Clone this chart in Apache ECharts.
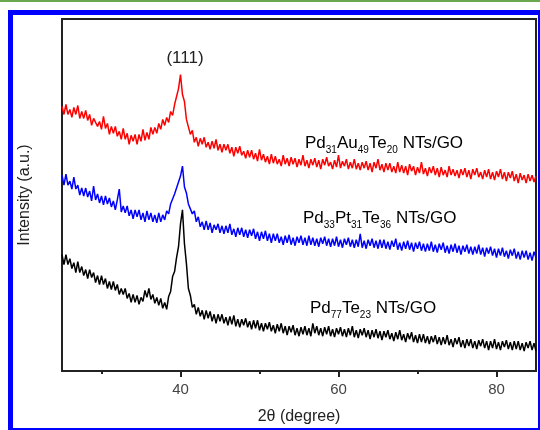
<!DOCTYPE html>
<html>
<head>
<meta charset="utf-8">
<script src="https://cdn.jsdelivr.net/npm/echarts@6/dist/echarts.min.js"></script>
<style>
  html, body { margin: 0; padding: 0; background: #fff; }
  #main { width: 540px; height: 430px; }
</style>
</head>
<body>
<div id="main"></div>
<script>
// 2theta sampling of the scans (degrees)
var thetaStart = 25;
var thetaStep = 0.25;

// x axis labels / ticks
var majorTicks = [40, 60, 80];
var minorTicks = [30, 50, 70];

// intensities (a.u., offset stacked), one row per degree
var pdAuTe = [
  266,258,268,258, 263,255,265,258, 267,254,261,254, 262,252,258,247, 254,256,246,251,
  243,256,244,249, 238,246,239,246, 236,241,233,244, 233,239,228,237, 231,238,228,238,
  231,243,232,240, 233,245,238,245, 239,249,243,253, 247,255,250,261, 257,268,267,284,
  298,278,271,253, 251,238,242,230, 235,226,234,228, 235,225,230,223, 231,224,233,222,
  228,220,228,222, 228,219,225,216, 225,219,226,217, 221,214,222,215, 222,213,219,211,
  223,212,218,210, 216,208,218,209, 216,208,213,206, 217,208,214,206, 215,208,214,205,
  213,207,217,206, 212,204,213,207, 214,205,212,203, 213,207,215,206, 210,203,212,205,
  217,204,211,206, 213,203,210,204, 213,203,209,202, 210,204,211,202, 209,200,210,204,
  213,202,208,200, 209,202,209,200, 206,199,210,200, 207,199,206,197, 208,201,206,197,
  205,199,210,198, 204,196,205,199, 206,197,204,195, 205,197,202,195, 206,197,203,196,
  202,194,203,197, 204,195,202,193, 203,197,204,195, 200,193,202,195, 203,193,200,192,
  201,195,203,193, 200,191,200,194, 201,191,198,189, 199,192,197,189, 198,191,197,190,
  196
];
var pdPtTe = [
  197,187,198,187, 191,183,195,183, 187,177,184,176, 184,175,181,171, 186,172,178,169,
  176,167,176,168, 174,165,171,162, 172,183,160,166, 159,166,156,162, 153,162,155,162,
  152,159,150,161, 152,159,150,157, 149,159,150,157, 152,161,158,168, 166,178,177,190,
  196,206,185,179, 168,168,158,161, 150,155,145,150, 142,151,142,149, 139,147,142,148,
  139,146,138,146, 139,148,137,143, 135,144,137,144, 135,142,134,142, 136,143,133,140,
  131,140,133,141, 131,138,129,138, 131,138,129,135, 127,136,129,137, 127,134,126,135,
  129,136,127,134, 126,136,127,134, 126,133,125,134, 128,135,126,133, 125,133,126,135,
  125,132,124,133, 127,134,125,132, 124,132,125,138, 124,131,123,132, 126,133,124,131,
  123,132,124,132, 123,130,122,131, 125,133,122,129, 121,130,123,131, 122,129,120,129,
  123,130,121,128, 120,128,121,130, 120,127,119,128, 122,129,119,126, 118,127,120,128,
  119,126,117,126, 120,127,118,125, 117,125,118,127, 117,124,115,124, 118,125,116,123,
  114,123,116,124, 115,121,113,122, 116,123,113,120, 112,121,114,121, 112,119,111,120,
  114
];
var pdTe = [
  117,107,117,107, 113,103,109,99, 110,99,105,96, 102,93,102,94, 99,89,96,87,
  96,87,93,83, 90,82,90,81, 87,77,83,77, 83,73,78,69, 77,69,76,67,
  74,70,81,74, 83,72,77,68, 74,66,73,63, 69,62,75,80, 95,100,114,125,
  148,162,128,108, 83,76,64,67, 57,64,55,61, 52,61,53,60, 50,57,48,57,
  50,57,48,54, 46,55,47,56, 45,52,44,52, 46,53,44,50, 42,51,43,51,
  41,48,40,48, 42,49,40,46, 38,47,40,48, 38,45,36,45, 39,46,36,43,
  35,44,37,45, 36,43,35,48, 38,45,36,43, 35,44,37,45, 35,42,34,43,
  37,44,35,42, 34,43,36,45, 34,41,33,42, 36,43,34,41, 32,41,34,42,
  33,40,31,40, 34,41,32,38, 30,39,32,41, 31,37,29,38, 32,39,29,36,
  28,37,29,37, 28,35,27,35, 29,36,27,34, 26,34,27,36, 26,32,24,33,
  27,34,24,31, 23,32,25,32, 23,30,22,31, 25,32,23,30, 21,30,23,32,
  22,29,21,30, 24,31,22,29, 21,30,22,30, 21,28,20,29, 23,30,21,28,
  20
];

function pairs(arr) {
  var out = [];
  for (var i = 0; i < arr.length; i++) {
    out.push([thetaStart + i * thetaStep, arr[i]]);
  }
  return out;
}

var font = 'Liberation Sans, Arial, sans-serif';
var richStyle = {
  m: { fontSize: 17, lineHeight: 25, fontFamily: font, color: '#222' },
  s: { fontSize: 10, lineHeight: 10, fontFamily: font, color: '#222', verticalAlign: 'bottom' }
};

var myChart = echarts.init(document.getElementById('main'));
var option = {
  backgroundColor: '#fff',
  animation: false,
  grid: {
    left: 62, right: 4, top: 19, bottom: 57,
    show: true,
    borderColor: '#222',
    borderWidth: 2
  },
  xAxis: [
    {
      type: 'value',
      min: 25,
      max: 85,
      name: '2θ (degree)',
      nameLocation: 'middle',
      nameGap: 38,
      nameTextStyle: { fontSize: 16, color: '#222', fontFamily: font },
      splitLine: { show: false },
      axisLine: { show: false },
      axisTick: { show: true, customValues: majorTicks, length: 6, lineStyle: { color: '#222', width: 2 } },
      axisLabel: { customValues: majorTicks, fontSize: 15, color: '#444', fontFamily: font, margin: 11 }
    },
    {
      type: 'value',
      min: 25,
      max: 85,
      position: 'bottom',
      splitLine: { show: false },
      axisLine: { show: false },
      axisTick: { show: true, customValues: minorTicks, length: 3, lineStyle: { color: '#222', width: 2 } },
      axisLabel: { show: false }
    }
  ],
  yAxis: {
    type: 'value',
    min: 0,
    max: 354,
    name: 'Intensity (a.u.)',
    nameLocation: 'middle',
    nameGap: 29,
    nameTextStyle: { fontSize: 16, color: '#222', fontFamily: font },
    splitLine: { show: false },
    axisLine: { show: false },
    axisTick: { show: false },
    axisLabel: { show: false }
  },
  series: [
    { name: 'Pd77Te23', type: 'line', data: pairs(pdTe), showSymbol: false, lineStyle: { color: '#000', width: 1.5 } },
    { name: 'Pd33Pt31Te36', type: 'line', data: pairs(pdPtTe), showSymbol: false, lineStyle: { color: '#0000ff', width: 1.5 } },
    { name: 'Pd31Au49Te20', type: 'line', data: pairs(pdAuTe), showSymbol: false, lineStyle: { color: '#ff0000', width: 1.5 } }
  ],
  graphic: [
    { type: 'rect', shape: { x: 0, y: 0, width: 540, height: 2 }, style: { fill: '#6aa84f' } },
    { type: 'rect', shape: { x: 10.5, y: 12.5, width: 530, height: 418 }, style: { fill: null, stroke: '#0000ff', lineWidth: 5 } },
    { type: 'text', x: 185, y: 58, style: { text: '(111)', fontSize: 17, fontFamily: font, fill: '#222', textAlign: 'center', textVerticalAlign: 'middle' } },
    { type: 'text', x: 305, y: 143, style: { text: '{m|Pd}{s|31}{m|Au}{s|49}{m|Te}{s|20}{m| NTs/GO}', rich: richStyle, textVerticalAlign: 'middle' } },
    { type: 'text', x: 303, y: 218, style: { text: '{m|Pd}{s|33}{m|Pt}{s|31}{m|Te}{s|36}{m| NTs/GO}', rich: richStyle, textVerticalAlign: 'middle' } },
    { type: 'text', x: 310, y: 308, style: { text: '{m|Pd}{s|77}{m|Te}{s|23}{m| NTs/GO}', rich: richStyle, textVerticalAlign: 'middle' } }
  ]
};
myChart.setOption(option);
</script>
</body>
</html>
